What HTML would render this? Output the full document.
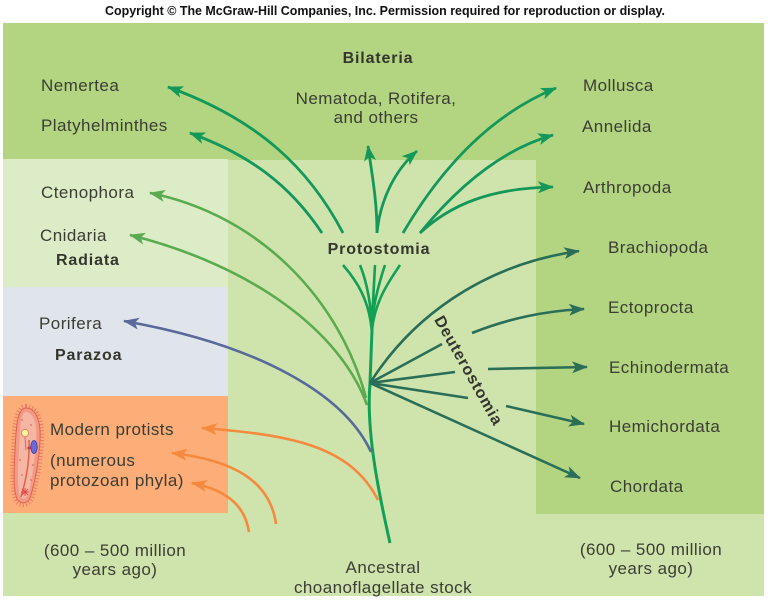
<!DOCTYPE html>
<html><head><meta charset="utf-8"><style>
html,body{margin:0;padding:0;background:#fff;}
svg{display:block;}
.t{font-family:"Liberation Sans",Arial,sans-serif;font-size:17px;fill:#3b3d34;letter-spacing:0.45px;}
.b{font-family:"Liberation Sans",Arial,sans-serif;font-size:16px;font-weight:bold;fill:#34362e;letter-spacing:0.85px;}
</style></head><body>
<svg width="768" height="600" viewBox="0 0 768 600" xmlns="http://www.w3.org/2000/svg">
<defs>
<marker id="mg" viewBox="0 0 16 12" refX="15" refY="6" markerWidth="16" markerHeight="12" markerUnits="userSpaceOnUse" orient="auto"><path d="M0,0 L16,6 L0,12 L4,6 Z" fill="#13985a"/></marker>
<marker id="ml" viewBox="0 0 16 12" refX="15" refY="6" markerWidth="16" markerHeight="12" markerUnits="userSpaceOnUse" orient="auto"><path d="M0,0 L16,6 L0,12 L4,6 Z" fill="#5aab50"/></marker>
<marker id="mb" viewBox="0 0 16 12" refX="15" refY="6" markerWidth="16" markerHeight="12" markerUnits="userSpaceOnUse" orient="auto"><path d="M0,0 L16,6 L0,12 L4,6 Z" fill="#59699a"/></marker>
<marker id="mo" viewBox="0 0 16 12" refX="15" refY="6" markerWidth="16" markerHeight="12" markerUnits="userSpaceOnUse" orient="auto"><path d="M0,0 L16,6 L0,12 L4,6 Z" fill="#f5893e"/></marker>
<marker id="md" viewBox="0 0 16 12" refX="15" refY="6" markerWidth="16" markerHeight="12" markerUnits="userSpaceOnUse" orient="auto"><path d="M0,0 L16,6 L0,12 L4,6 Z" fill="#2a6e57"/></marker>
</defs>

<!-- header -->
<text x="105" y="15" textLength="560" lengthAdjust="spacingAndGlyphs" style="font-family:'Liberation Sans',Arial,sans-serif;font-size:12.5px;font-weight:bold;fill:#111;">Copyright © The McGraw-Hill Companies, Inc. Permission required for reproduction or display.</text>

<!-- backgrounds -->
<rect x="3" y="23" width="761" height="573" fill="#cfe4ad"/>
<rect x="3" y="23" width="761" height="137" fill="#b3d581"/>
<rect x="536" y="159" width="228" height="355" fill="#b3d581"/>
<rect x="3" y="159" width="225" height="128" fill="#dcecc6"/>
<rect x="3" y="287" width="225" height="109" fill="#e0e5ec"/>
<rect x="3" y="396" width="225" height="117" fill="#fcad78"/>

<!-- protist icon -->
<g>
<path d="M26,406 C37,406 43,420 42,440 C41,462 37,482 33,496 C30,506 20,508 16,501 C11,490 12,470 13,450 C14,428 15,406 26,406 Z" fill="none" stroke="#ec7a66" stroke-width="4" stroke-dasharray="1 2.2"/>
<path d="M26,408 C36,408 41,421 40,440 C39,462 35,481 31,495 C29,504 21,505 17,499 C13,489 14,470 15,450 C16,429 17,408 26,408 Z" fill="#f29a86" stroke="#e0604e" stroke-width="1"/>
<path d="M26,412 C34,413 37,424 36,440 C35,460 32,478 29,492 C27,499 22,500 20,496 C17,487 18,468 19,450 C20,430 20,412 26,412 Z" fill="#f6b6a4"/>
<path d="M29,440 C30,460 26,480 21,497" fill="none" stroke="#e0604e" stroke-width="1.5"/>
<circle cx="25" cy="433" r="3.6" fill="#fff4a6" stroke="#e07a50" stroke-width="0.8"/>
<line x1="25" y1="437" x2="26" y2="450" stroke="#e0604e" stroke-width="1"/>
<ellipse cx="34" cy="447" rx="3.2" ry="6.5" fill="#6c6ad6" stroke="#3a3aa8" stroke-width="0.8"/>
<circle cx="29" cy="448" r="1.6" fill="#d83a3a"/>
<g stroke="#e04a4a" stroke-width="1"><line x1="21" y1="492" x2="29" y2="492"/><line x1="25" y1="488" x2="25" y2="496"/><line x1="22" y1="489" x2="28" y2="495"/><line x1="28" y1="489" x2="22" y2="495"/></g>
<g fill="#e46a58"><circle cx="22" cy="420" r="0.9"/><circle cx="31" cy="425" r="0.9"/><circle cx="20" cy="460" r="0.9"/><circle cx="33" cy="465" r="0.9"/><circle cx="22" cy="475" r="0.9"/><circle cx="31" cy="480" r="0.9"/></g>
</g>

<!-- orange branches -->
<g fill="none" stroke="#f5893e" stroke-width="2.6">
<path d="M378,500 C350,445 290,435 202,428" marker-end="url(#mo)"/>
<path d="M276,524 C270,480 232,460 172,453" marker-end="url(#mo)"/>
<path d="M249,532 C245,505 226,490 192,483" marker-end="url(#mo)"/>
</g>

<!-- porifera -->
<path d="M371,452 C345,395 260,345 124,321" fill="none" stroke="#59699a" stroke-width="2.6" marker-end="url(#mb)"/>

<!-- radiata -->
<g fill="none" stroke="#5aab50" stroke-width="2.6">
<path d="M367,405 C340,330 250,265 130,235" marker-end="url(#ml)"/>
<path d="M366,398 C340,300 260,215 150,193" marker-end="url(#ml)"/>
</g>

<!-- trunk -->
<path d="M390,543 C378,490 366,430 370,383 L372,330" fill="none" stroke="#12a055" stroke-width="3"/>

<!-- protostome lower fan -->
<g fill="none" stroke="#12a055" stroke-width="2.6">
<path d="M372,334 C370,300 356,280 343,265"/>
<path d="M372,330 C371,300 366,280 360,265"/>
<path d="M372,322 C373,300 374,285 375,265"/>
<path d="M372,322 C374,300 380,280 385,265"/>
<path d="M372,330 C375,300 390,280 400,265"/>
</g>

<!-- protostome upper fan -->
<g fill="none" stroke="#13985a" stroke-width="2.8">
<path d="M343,233 C310,170 260,120 168,87" marker-end="url(#mg)"/>
<path d="M322,233 C290,185 250,155 190,133" marker-end="url(#mg)"/>
<path d="M377,233 C377,200 372,175 368,146" marker-end="url(#mg)"/>
<path d="M377,233 C380,200 395,170 417,151" marker-end="url(#mg)"/>
<path d="M403,233 C440,170 490,115 556,88" marker-end="url(#mg)"/>
<path d="M420,233 C455,190 500,150 553,135" marker-end="url(#mg)"/>
<path d="M420,233 C450,205 490,188 553,187" marker-end="url(#mg)"/>
</g>

<!-- deuterostomes -->
<g fill="none" stroke="#2a6e57" stroke-width="2.6">
<path d="M370,383 C410,320 480,265 579,251" marker-end="url(#md)"/>
<path d="M370,383 L442,344"/>
<path d="M472,333 C510,318 545,311 584,309" marker-end="url(#md)"/>
<path d="M370,383 L455,372"/>
<path d="M488,369 L587,367" marker-end="url(#md)"/>
<path d="M370,383 L468,398"/>
<path d="M506,406 L584,424" marker-end="url(#md)"/>
<path d="M370,383 L580,478" marker-end="url(#md)"/>
</g>

<!-- labels -->
<text class="b" x="378" y="63" text-anchor="middle">Bilateria</text>
<text class="t" x="41" y="91">Nemertea</text>
<text class="t" x="41" y="131">Platyhelminthes</text>
<text class="t" x="376" y="104" text-anchor="middle">Nematoda, Rotifera,</text>
<text class="t" x="376" y="123" text-anchor="middle">and others</text>
<text class="t" x="583" y="91">Mollusca</text>
<text class="t" x="582" y="132">Annelida</text>
<text class="t" x="583" y="193">Arthropoda</text>
<text class="t" x="41" y="198">Ctenophora</text>
<text class="t" x="40" y="241">Cnidaria</text>
<text class="b" x="56" y="265">Radiata</text>
<text class="t" x="39" y="329">Porifera</text>
<text class="b" x="55" y="360">Parazoa</text>
<text class="t" x="50" y="435">Modern protists</text>
<text class="t" x="50" y="466">(numerous</text>
<text class="t" x="50" y="486">protozoan phyla)</text>
<text class="t" x="115" y="556" text-anchor="middle">(600 – 500 million</text>
<text class="t" x="115" y="575" text-anchor="middle">years ago)</text>
<text class="t" x="383" y="573" text-anchor="middle">Ancestral</text>
<text class="t" x="383" y="593" text-anchor="middle">choanoflagellate stock</text>
<text class="b" x="379" y="254" text-anchor="middle">Protostomia</text>
<text class="b" x="0" y="0" text-anchor="middle" dominant-baseline="central" transform="translate(468,371) rotate(60.6)">Deuterostomia</text>
<text class="t" x="608" y="253">Brachiopoda</text>
<text class="t" x="608" y="313">Ectoprocta</text>
<text class="t" x="609" y="373">Echinodermata</text>
<text class="t" x="609" y="432">Hemichordata</text>
<text class="t" x="610" y="492">Chordata</text>
<text class="t" x="651" y="555" text-anchor="middle">(600 – 500 million</text>
<text class="t" x="651" y="574" text-anchor="middle">years ago)</text>
</svg>
</body></html>
